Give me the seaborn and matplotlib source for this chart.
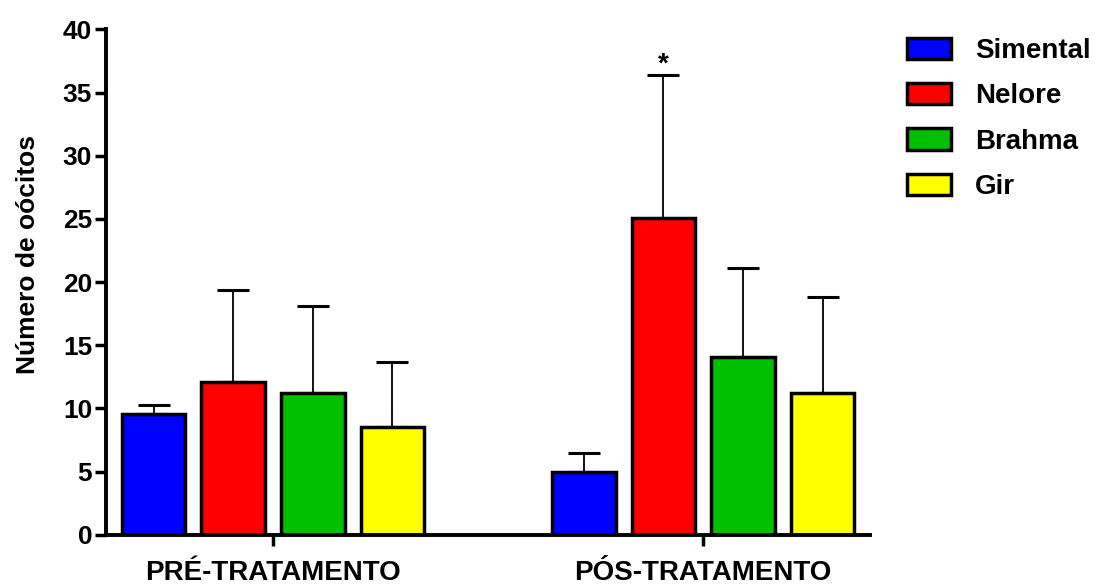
import pandas as pd
import numpy as np
import matplotlib
matplotlib.use("Agg")
import matplotlib.pyplot as plt
import seaborn as sns

# data
grupos = ["PRÉ-TRATAMENTO", "PÓS-TRATAMENTO"]
racas = ["Simental", "Nelore", "Brahma", "Gir"]
cores = ["#0000ff", "#ff0000", "#00c000", "#ffff00"]
media_pre = [9.55, 12.05, 11.2, 8.55]
media_pos = [5.0, 25.1, 14.1, 11.2]
erro_pre = [0.7, 7.3, 6.9, 5.1]
erro_pos = [1.45, 11.3, 7.0, 7.6]

sns.set_theme(style="ticks")
plt.rcParams['font.family'] = ['Liberation Sans', 'DejaVu Sans']
plt.rcParams['font.weight'] = 'bold'
plt.rcParams['text.color'] = 'black'
plt.rcParams['axes.labelcolor'] = 'black'
plt.rcParams['xtick.color'] = 'black'
plt.rcParams['ytick.color'] = 'black'
plt.rcParams['axes.edgecolor'] = 'black'

df = pd.DataFrame({
    "grupo": [grupos[0]] * 4 + [grupos[1]] * 4,
    "raca": racas * 2,
    "valor": media_pre + media_pos,
    "erro": erro_pre + erro_pos,
})

fig = plt.figure(figsize=(11.07, 5.88), dpi=100)
ax = fig.add_axes([0.0958, 0.0906, 0.786 - 0.0958, 0.95 - 0.0906])

sns.barplot(data=df, x="grupo", y="valor", hue="raca", order=grupos,
            hue_order=racas, palette=cores, width=0.74, gap=0.2,
            errorbar=None, edgecolor="black", linewidth=2.5, saturation=1,
            ax=ax)

# upper-only error bars, GraphPad style
for bars, raca in zip(ax.containers, racas):
    sub = df[df["raca"] == raca].set_index("grupo").loc[grupos]
    xs = [p.get_x() + p.get_width() / 2 for p in bars.patches]
    ax.errorbar(xs, sub["valor"], yerr=[np.zeros(len(xs)), sub["erro"]],
                fmt="none", ecolor="black", elinewidth=1.3, capsize=11.5,
                capthick=2.2, zorder=0)

# significance mark over Nelore pos-tratamento
nel = ax.containers[1].patches[1]
ax.text(nel.get_x() + nel.get_width() / 2, media_pos[1] + erro_pos[1] - 0.2, "*",
        ha="center", va="bottom", fontsize=20, fontweight="bold")

ax.set_xlim(-0.388, 1.388)
ax.set_ylim(0, 40)
ax.set_yticks(range(0, 41, 5))
ax.set_xlabel("")
ax.set_ylabel("Número de oócitos", fontsize=19, fontweight="bold")
ax.yaxis.set_label_coords(-0.086, 0.555)
ax.tick_params(axis="both", width=2.5, length=8, labelsize=19, pad=2)
ax.tick_params(axis="x", labelsize=20, pad=10)
for lab in ax.get_xticklabels() + ax.get_yticklabels():
    lab.set_fontweight("bold")
sns.despine(ax=ax)
for s in ["left", "bottom"]:
    ax.spines[s].set_linewidth(2.8)

ax.legend(loc="upper left", bbox_to_anchor=(907 / 1107, 1 - 38 / 588),
          bbox_transform=fig.transFigure, frameon=False, borderaxespad=0,
          borderpad=0, prop={"size": 20, "weight": "bold"}, handlelength=1.6,
          handleheight=0.8, labelspacing=0.68, handletextpad=0.85)

fig.savefig("out.png", dpi=100)
